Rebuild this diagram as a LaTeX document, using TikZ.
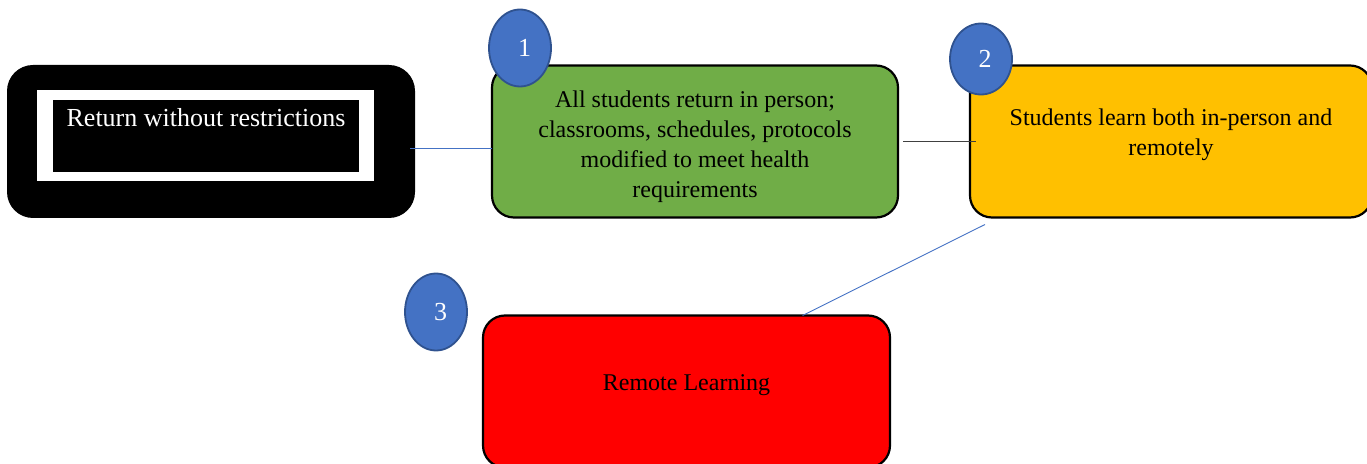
\documentclass[tikz,border=0pt]{standalone}
\usepackage{fontspec}
\setmainfont{Liberation Serif}
\usepackage{xcolor}
\usetikzlibrary{positioning,shapes.geometric}
\definecolor{boxgreen}{HTML}{70AD47}
\definecolor{boxorange}{HTML}{FFC000}
\definecolor{numblue}{HTML}{4472C4}
\definecolor{numedge}{HTML}{2F528F}
\definecolor{linkgray}{HTML}{404040}

\begin{document}
\begin{tikzpicture}[x=1pt, y=1pt, font=\fontsize{24}{30}\selectfont,
    main/.style = {rectangle, rounded corners=22pt, draw, line width=2.2pt, outer sep=0pt, minimum height=152pt, align=center},
    num/.style = {ellipse, draw=numedge, line width=1.8pt, fill=numblue, text=white, minimum width=62pt, minimum height=77pt, inner sep=0pt, font=\fontsize{26}{30}\selectfont},
    bluelink/.style = {draw=numblue, line width=0.9pt}]
    \useasboundingbox (0,0) rectangle (1367,463);
    \clip (0,0) rectangle (1367,463);
    \node[main, fill=black, draw=none, rounded corners=26pt, minimum width=408pt, minimum height=153pt] (ret) at (211,321.5) {};
    \node[fill=white, minimum width=337pt, minimum height=91pt, inner sep=0pt] (retframe) at ([shift={(-5.5pt,6pt)}]ret.center) {};
    \node[fill=black, text=white, minimum width=306pt, minimum height=72pt, inner xsep=0pt, inner ysep=8pt, text depth=38pt, font=\fontsize{26}{30}\selectfont] (retinner) at ([shift={(0.5pt,-0.5pt)}]retframe.center) {Return without restrictions};
    \node[main, fill=boxgreen, minimum width=406pt, right=77pt of ret] (full) {\rule{0pt}{27pt}All students return in person;\\ classrooms, schedules, protocols\\ modified to meet health\\ requirements};
    \node[main, fill=boxorange, minimum width=402pt, text depth=19pt, right=72pt of full] (hybrid) {Students learn both in-person and\\ remotely};
    \node[main, fill=red, minimum width=407pt, text depth=17pt, below=98pt of full, xshift=-8.5pt] (remote) {Remote Learning};
    \node[num] (n1) at ([shift={(28pt,17.5pt)}]full.north west) {\hspace*{9pt}1};
    \node[num, minimum height=71pt] (n2) at ([shift={(11pt,6.5pt)}]hybrid.north west) {\hspace*{8pt}2};
    \node[num] (n3) at ([shift={(-47pt,3.5pt)}]remote.north west) {\hspace*{9pt}3};
    \path ([shift={(-5pt,-6.5pt)}]ret.east) edge[bluelink] ([yshift=-6.5pt]full.west);
    \path ([xshift=5pt]full.east) edge[draw=linkgray, line width=1.2pt] ([xshift=6pt]hybrid.west);
    \path ([shift={(15pt,-7pt)}]hybrid.south west) edge[bluelink] ([xshift=116pt]remote.north);
\end{tikzpicture}
\end{document}
